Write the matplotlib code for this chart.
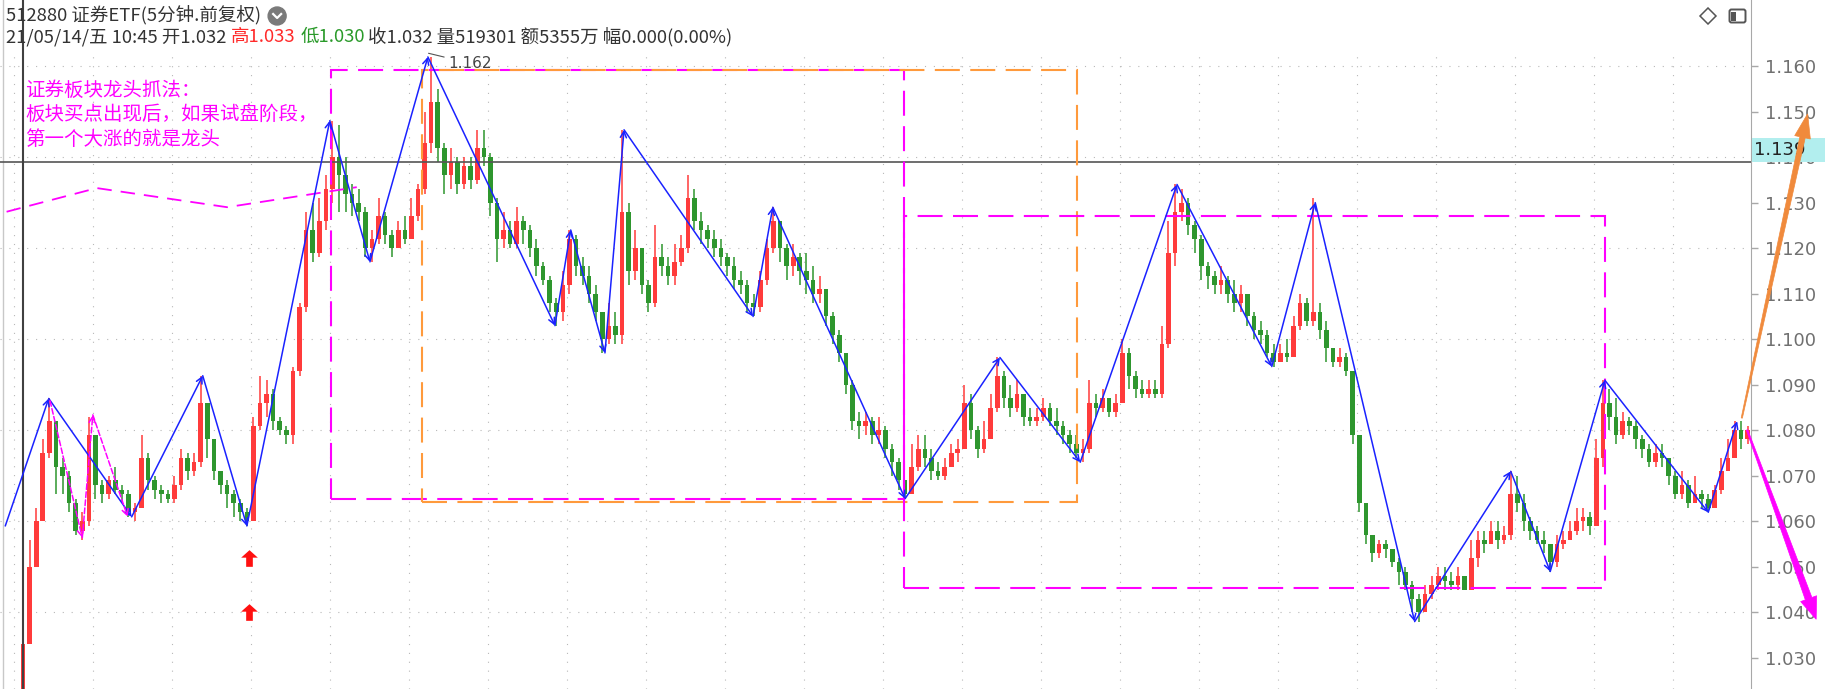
import matplotlib
matplotlib.use("Agg")
import matplotlib.pyplot as plt
from matplotlib.patches import Rectangle, Circle, Polygon, FancyBboxPatch
from matplotlib.path import Path
import numpy as np

plt.rcParams['font.family'] = ['Noto Sans CJK SC', 'DejaVu Sans']

# 5分钟K线 (价格 x1000)
closes = [1012, 1016, 1021, 1033, 1050, 1060, 1075, 1082, 1072, 1070,
          1064, 1058, 1060, 1079, 1068, 1066, 1069, 1067, 1066, 1062,
          1063, 1074, 1069, 1067, 1066, 1065, 1068, 1074, 1071, 1073,
          1086, 1078, 1071, 1068, 1066, 1064, 1062, 1060, 1081, 1086,
          1088, 1082, 1080, 1079, 1093, 1107, 1124, 1119, 1126, 1133,
          1140, 1136, 1132, 1130, 1128, 1120, 1122, 1127, 1123, 1120,
          1124, 1122, 1127, 1133, 1143, 1152, 1142, 1136, 1139, 1134,
          1138, 1135, 1142, 1140, 1130, 1122, 1124, 1121, 1126, 1124,
          1120, 1116, 1113, 1108, 1106, 1112, 1122, 1116, 1114, 1110,
          1106, 1100, 1103, 1101, 1128, 1115, 1120, 1112, 1108, 1118,
          1116, 1114, 1117, 1120, 1131, 1126, 1124, 1122, 1120, 1118,
          1116, 1113, 1112, 1108, 1107, 1113, 1120, 1126, 1120, 1116,
          1118, 1115, 1113, 1110, 1111, 1105, 1101, 1097, 1090, 1082,
          1081, 1082, 1079, 1080, 1076, 1073, 1069, 1066, 1072, 1076,
          1074, 1071, 1070, 1072, 1075, 1076, 1086, 1080, 1076, 1078,
          1085, 1092, 1087, 1085, 1088, 1083, 1082, 1083, 1085, 1082,
          1081, 1079, 1077, 1075, 1076, 1086, 1085, 1087, 1084, 1086,
          1097, 1092, 1089, 1088, 1089, 1088, 1099, 1119, 1128, 1130,
          1125, 1122, 1116, 1114, 1112, 1113, 1110, 1108, 1110, 1105,
          1102, 1101, 1097, 1095, 1097, 1096, 1103, 1108, 1104, 1106,
          1102, 1098, 1095, 1096, 1093, 1079, 1064, 1057, 1053, 1055,
          1054, 1051, 1049, 1046, 1043, 1040, 1044, 1046, 1048, 1047,
          1046, 1048, 1045, 1052, 1056, 1055, 1058, 1056, 1057, 1066,
          1064, 1060, 1058, 1056, 1055, 1051, 1055, 1056, 1058, 1060,
          1061, 1059, 1074, 1086, 1083, 1079, 1082, 1081, 1078, 1076,
          1073, 1075, 1074, 1070, 1066, 1068, 1064, 1066, 1065, 1063,
          1067, 1071, 1074, 1080, 1078, 1080]
highs = [1014, 1018, 1022, 1034, 1056, 1063, 1078, 1087, 1080, 1074,
         1071, 1065, 1062, 1083, 1071, 1069, 1070, 1072, 1068, 1067,
         1064, 1079, 1075, 1070, 1068, 1067, 1070, 1076, 1075, 1075,
         1092, 1083, 1078, 1070, 1069, 1067, 1065, 1063, 1083, 1092,
         1091, 1089, 1083, 1081, 1094, 1108, 1128, 1130, 1131, 1136,
         1148, 1147, 1140, 1134, 1133, 1129, 1124, 1131, 1128, 1124,
         1126, 1127, 1131, 1134, 1150, 1162, 1155, 1143, 1142, 1140,
         1140, 1140, 1146, 1146, 1141, 1131, 1128, 1126, 1129, 1127,
         1125, 1122, 1117, 1114, 1109, 1115, 1124, 1123, 1118, 1116,
         1112, 1106, 1108, 1106, 1146, 1130, 1124, 1120, 1113, 1125,
         1121, 1118, 1121, 1123, 1136, 1133, 1128, 1125, 1124, 1122,
         1119, 1118, 1115, 1113, 1110, 1115, 1122, 1129, 1126, 1121,
         1121, 1119, 1119, 1116, 1114, 1111, 1106, 1102, 1097, 1091,
         1084, 1084, 1083, 1083, 1081, 1077, 1074, 1069, 1077, 1079,
         1079, 1076, 1073, 1074, 1077, 1078, 1090, 1088, 1081, 1082,
         1088, 1096, 1093, 1090, 1091, 1088, 1085, 1085, 1087, 1086,
         1085, 1082, 1080, 1079, 1078, 1091, 1088, 1089, 1087, 1088,
         1100, 1098, 1093, 1091, 1091, 1091, 1103, 1126, 1134, 1133,
         1131, 1126, 1123, 1117, 1115, 1116, 1114, 1113, 1112, 1110,
         1106, 1104, 1102, 1099, 1099, 1100, 1105, 1110, 1109, 1131,
         1108, 1104, 1098, 1098, 1097, 1090, 1075, 1063, 1057, 1056,
         1056, 1054, 1052, 1050, 1047, 1044, 1046, 1048, 1050, 1050,
         1049, 1050, 1048, 1056, 1058, 1058, 1060, 1060, 1059, 1071,
         1070, 1066, 1061, 1059, 1058, 1055, 1057, 1058, 1060, 1063,
         1063, 1062, 1078, 1091, 1089, 1087, 1084, 1083, 1082, 1079,
         1077, 1077, 1077, 1074, 1071, 1071, 1069, 1070, 1067, 1066,
         1068, 1074, 1078, 1082, 1082, 1081]
lows = [1010, 1012, 1016, 1020, 1033, 1054, 1060, 1074, 1066, 1066,
        1062, 1057, 1056, 1059, 1065, 1064, 1065, 1066, 1064, 1061,
        1060, 1063, 1067, 1065, 1064, 1064, 1064, 1067, 1069, 1070,
        1072, 1074, 1069, 1066, 1063, 1061, 1060, 1059, 1060, 1080,
        1083, 1080, 1079, 1077, 1077, 1092, 1106, 1117, 1118, 1124,
        1130, 1128, 1128, 1127, 1126, 1118, 1117, 1121, 1121, 1118,
        1121, 1121, 1122, 1126, 1132, 1141, 1139, 1132, 1133, 1132,
        1133, 1133, 1134, 1138, 1127, 1117, 1120, 1120, 1120, 1121,
        1118, 1114, 1112, 1106, 1103, 1104, 1110, 1114, 1112, 1108,
        1104, 1097, 1099, 1099, 1099, 1112, 1113, 1110, 1106, 1107,
        1114, 1112, 1112, 1116, 1119, 1124, 1121, 1120, 1118, 1116,
        1114, 1111, 1110, 1106, 1105, 1106, 1112, 1119, 1117, 1113,
        1114, 1112, 1110, 1108, 1108, 1103, 1099, 1095, 1088, 1080,
        1078, 1079, 1077, 1077, 1074, 1070, 1067, 1065, 1066, 1071,
        1072, 1069, 1069, 1069, 1072, 1073, 1076, 1078, 1074, 1075,
        1078, 1084, 1085, 1083, 1084, 1081, 1081, 1081, 1082, 1081,
        1079, 1077, 1075, 1074, 1073, 1075, 1083, 1084, 1083, 1083,
        1086, 1089, 1087, 1087, 1087, 1087, 1087, 1098, 1116, 1126,
        1123, 1119, 1113, 1111, 1110, 1110, 1108, 1106, 1106, 1103,
        1100, 1099, 1096, 1094, 1095, 1095, 1096, 1102, 1103, 1103,
        1100, 1095, 1094, 1094, 1092, 1077, 1062, 1055, 1051, 1052,
        1052, 1050, 1046, 1045, 1040, 1038, 1040, 1043, 1045, 1045,
        1045, 1045, 1045, 1045, 1050, 1053, 1055, 1054, 1055, 1056,
        1062, 1058, 1056, 1055, 1053, 1049, 1050, 1054, 1056, 1057,
        1058, 1057, 1060, 1072, 1080, 1077, 1078, 1079, 1076, 1074,
        1072, 1072, 1072, 1068, 1065, 1065, 1063, 1064, 1063, 1062,
        1063, 1066, 1071, 1074, 1076, 1077]

# 波段连线 (蓝)
zig_x = [0.3, 6.9, 19.5, 30.3, 37.0, 49.6, 55.7, 64.5, 83.8, 86.2, 91.4, 94.3, 113.9,
         116.9, 137.0, 151.4, 163.6, 178.3, 192.7, 199.3, 214.4, 229.0, 235.0, 243.3,
         259.0, 263.4]
zig_y = [1.059, 1.087, 1.061, 1.092, 1.059, 1.148, 1.117, 1.162, 1.103, 1.124, 1.097,
         1.146, 1.105, 1.129, 1.065, 1.096, 1.073, 1.134, 1.094, 1.130, 1.038, 1.071,
         1.049, 1.091, 1.062, 1.082]
# 小波段 (品红虚线)
mz_x = [7.1, 12.0, 13.6, 18.9]
mz_y = [1.0865, 1.0564, 1.0834, 1.0610]
# 左上品红均线
ml_x = [0.5, 14.2, 34.0, 53.7]
ml_y = [1.1280, 1.1332, 1.1290, 1.1334]
# 方框: (x0, x1, 下沿, 上沿)
box_pink1 = (49.8, 136.8, 1.0649, 1.1591)
box_orange = (63.6, 163.1, 1.0643, 1.1591)
box_pink2 = (136.8, 243.3, 1.0454, 1.1271)
# 红色箭头信号
sig_x = [37.3, 37.3]
sig_y = [1.0520, 1.0401]
# 大箭头 (起点, 终点)
up_arrow = ((264.1, 1.0827), (274.1, 1.1495))
down_arrow = ((264.9, 1.0801), (275.4, 1.0385))
cursor_bar = 3
last_price = 1.139
peak_price = 1.162

W, H = 1825, 689
fig = plt.figure(figsize=(W / 100, H / 100), dpi=100)
ax = fig.add_axes([0, 0, 1751 / W, 1])
ax.set_xlim(-0.5, 265.5)
ax.set_ylim(1.0232, 1.1745)

up_c, dn_c, flat_c = '#ff3b3b', '#2e962e', '#333333'
c = np.array(closes) / 1000
hi = np.array(highs) / 1000
lo = np.array(lows) / 1000
o = np.r_[c[0], c[:-1]]
idx = np.arange(len(c))
cols = np.where(c > o, up_c, np.where(c < o, dn_c, flat_c))
top = np.maximum(o, c)
bot = np.minimum(o, c)
ax.vlines(idx, np.minimum(lo, bot), np.maximum(hi, top), colors=cols, lw=1.1, zorder=3)
body = np.maximum(top - bot, 0.0004)
ax.bar(idx, body, bottom=np.where(top == bot, bot - 0.0002, bot), width=0.7,
       color=cols, lw=0, zorder=3)

# 网格
for gy in np.arange(1.04, 1.1601, 0.02):
    ax.axhline(gy, color='#b8b8b8', lw=0.8, ls=(0, (1, 7)), zorder=0)
for gx in np.arange(1.627, 265, 12):
    ax.axvline(gx, ymax=0.927, color='#b8b8b8', lw=0.8, ls=(0, (1, 7)), zorder=0)

ax.axhline(last_price, color='#555555', lw=1.2, zorder=4)
ax.axvline(cursor_bar, color='#404040', lw=1.5, zorder=4)
ax.axvline(-0.05, color='#c8c8c8', lw=1.0, zorder=1)

# 方框
for (x0, x1, y0, y1), colr in [(box_pink1, '#ff00ff'), (box_orange, '#ff9a3c'),
                               (box_pink2, '#ff00ff')]:
    ax.add_patch(Rectangle((x0, y0), x1 - x0, y1 - y0, fill=False, ec=colr, lw=1.5,
                           ls=(0, (12, 5)), zorder=5))

ax.plot(ml_x, ml_y, color='#ff00ff', lw=1.3, ls=(0, (8, 5)), zorder=5)

# 蓝色波段
for i in range(len(zig_x) - 1):
    ax.annotate('', xy=(zig_x[i + 1], zig_y[i + 1]), xytext=(zig_x[i], zig_y[i]),
                arrowprops=dict(arrowstyle='->', color='#1a22ff', lw=1.1,
                                shrinkA=0, shrinkB=0, mutation_scale=11), zorder=6)
for i in range(len(mz_x) - 1):
    ax.annotate('', xy=(mz_x[i + 1], mz_y[i + 1]), xytext=(mz_x[i], mz_y[i]),
                arrowprops=dict(arrowstyle='->', color='#ff00ff', lw=1.1, ls='--',
                                shrinkA=0, shrinkB=0, mutation_scale=11), zorder=6)

arrow_mk = Path([(0, 1), (1, 0.1), (0.4, 0.1), (0.4, -1), (-0.4, -1), (-0.4, 0.1),
                 (-1, 0.1), (0, 1)])
ax.plot(sig_x, sig_y, ls='none', marker=arrow_mk, ms=12, color='#ff1010', mec='none',
        zorder=6)

ax.annotate(f'{peak_price:.3f}', xy=(64.6, peak_price + 0.0008), xytext=(67.6, 1.1606),
            fontsize=11, family='DejaVu Sans', color='#444444', va='center', ha='left',
            arrowprops=dict(arrowstyle='-', color='#555555', lw=0.8,
                            shrinkA=1, shrinkB=0), zorder=7)

# 右侧价格轴
for s in ['left', 'top', 'bottom']:
    ax.spines[s].set_visible(False)
ax.spines['right'].set_color('#a8a8a8')
ax.set_xticks([])
ax.yaxis.tick_right()
ax.set_yticks(np.round(np.arange(1.03, 1.1601, 0.01), 3))
ax.set_yticklabels([f'{v:.3f}' for v in np.arange(1.03, 1.1601, 0.01)])
ax.tick_params(axis='y', direction='out', length=5, width=1, color='#a8a8a8',
               labelcolor='#707070', labelsize=13, pad=5)
for t in ax.get_yticklabels():
    t.set_family('DejaVu Sans')

# 覆盖层 (像素坐标)
ov = fig.add_axes([0, 0, 1, 1])
ov.set_xlim(0, W)
ov.set_ylim(H, 0)
ov.axis('off')


def to_px(p):
    d = ax.transData.transform(p)
    return np.array([d[0], H - d[1]])


# 最新价标签
lp = to_px((0, last_price))[1]
ov.add_patch(Rectangle((1752, lp - 24), W - 1752, 24, fc='#b2eeee', ec='none', zorder=8))
ov.text(1754, lp - 12, f'{last_price:.3f}', fontsize=13, family='DejaVu Sans',
        color='#222222', va='center', ha='left', zorder=9)


def big_arrow(a, b, colr, w0, w1, hl, hw):
    s, t = to_px(a), to_px(b)
    u = (t - s) / np.linalg.norm(t - s)
    n = np.array([-u[1], u[0]])
    bb = t - u * hl
    pts = [s + n * w0 / 2, bb + n * w1 / 2, bb + n * hw / 2, t, bb - n * hw / 2,
           bb - n * w1 / 2, s - n * w0 / 2]
    ov.add_patch(Polygon(pts, closed=True, fc=colr, ec=colr, lw=0.5, zorder=10))


big_arrow(*up_arrow, '#f08a3c', 1.2, 5.5, 24, 16)
big_arrow(*down_arrow, '#ff00ff', 1.5, 7, 22, 17)

# 标题栏
r = fig.canvas.get_renderer()


def put_line(x, y, parts, size):
    for s, colr, gap in parts:
        t = ov.text(x, y, s, fontsize=size, color=colr, va='center', ha='left')
        x += t.get_window_extent(renderer=r).width + gap
    return x


dark = '#333333'
end1 = put_line(6, 16, [('512880 证券ETF(5分钟.前复权)', dark, 0)], 13.3)
ov.add_patch(Circle((end1 + 16, 16), 9, color='#7a7a7a', zorder=5))
ov.plot([end1 + 12, end1 + 16, end1 + 20], [14, 18, 14], color='white', lw=1.6, zorder=6)
put_line(6, 37, [('21/05/14/五 10:45 开1.032', dark, 5), ('高1.033', '#ff2a2a', 5),
                 ('低1.030', '#2a9a2a', 3),
                 ('收1.032 量519301 额5355万 幅0.000(0.00%)', dark, 0)], 13.3)

ov.add_patch(Polygon([(1700, 16), (1708, 8), (1716, 16), (1708, 24)], closed=True,
                     fill=False, ec='#555555', lw=1.1))
ov.add_patch(FancyBboxPatch((1730, 10), 15, 12, boxstyle='round,pad=0.5,rounding_size=2',
                            fill=False, ec='#555555', lw=1.4))
ov.add_patch(Rectangle((1731.5, 11.5), 5, 9, fc='#555555', ec='none'))

note = ['证券板块龙头抓法：', '板块买点出现后，如果试盘阶段，', '第一个大涨的就是龙头']
for k, s in enumerate(note):
    ov.text(25, 90 + 24.5 * k, s, fontsize=14, color='#ff00ff', va='center', ha='left')

fig.savefig('out.png', dpi=100)
